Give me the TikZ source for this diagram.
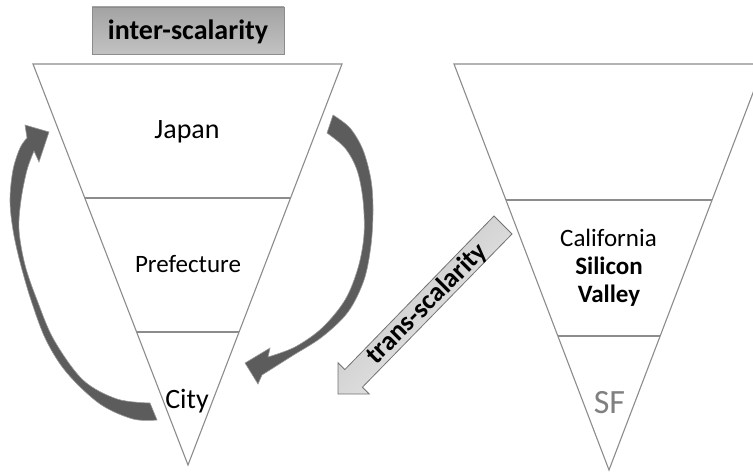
\documentclass[tikz,border=0pt]{standalone}
\usepackage{fontspec}
\setmainfont{Carlito}
\begin{document}
\begin{tikzpicture}[x=1bp,y=-1bp,
  tri/.style={draw=black!45, line width=1.1bp},
  curvearrow/.style={fill=black!64, draw=black!40, line width=0.6bp},
  lbl/.style={anchor=base, inner sep=0pt, text=black},
]
\clip (0,0) rectangle (753,472);
\fill[white] (0,0) rectangle (753,472);

% left triangle
\draw[tri] (33,64) -- (342,64) -- (188,465) -- cycle;
\draw[tri] (85,198) -- (291,198);
\draw[tri] (137,332) -- (239,332);

% right triangle
\draw[tri] (454,64) -- (764,64) -- (609,470) -- cycle;
\draw[tri] (506,200) -- (712,200);
\draw[tri] (558,336) -- (660,336);

% title box
\node[draw=black!45, top color=black!36, bottom color=black!24, minimum width=192bp, minimum height=47bp, inner sep=0pt, line width=0.8bp] (title) at (188,30.5) {};
\node[lbl, font=\bfseries\fontsize{28bp}{30bp}\selectfont] (titletext) at (188,40) {inter-scalarity};

% labels left
\node[lbl, font=\fontsize{28bp}{30bp}\selectfont] (japan) at (187,139) {Japan};
\node[lbl, font=\fontsize{25bp}{28bp}\selectfont] (pref) at (188,273) {Prefecture};
\node[lbl, font=\fontsize{28bp}{30bp}\selectfont] (city) at (187,408) {City};

% labels right
\node[lbl, font=\fontsize{25bp}{28bp}\selectfont] (calif) at (608.5,247) {California};
\node[lbl, font=\bfseries\fontsize{25bp}{28bp}\selectfont] (silicon) at (609,275) {Silicon};
\node[lbl, font=\bfseries\fontsize{25bp}{28bp}\selectfont] (valley) at (609,303) {Valley};
\node[lbl, text=black!50, font=\fontsize{34bp}{36bp}\selectfont] (sf) at (609.5,413) {SF};

% left curved arrow (City -> Japan)
\path[curvearrow]
  plot[smooth, tension=0.55] coordinates {(157,420) (133,419) (100,404) (67,373) (46,340) (31,300) (20,262) (13,230) (10,200) (13,170) (20,148) (27,138)}
  -- (25,125) -- (49,132) -- (39,162) --
  plot[smooth, tension=0.55] coordinates {(34,151) (27,170) (21,200) (19,230) (25,265) (37,300) (54,340) (83,380) (117,399) (150,403)}
  -- cycle;

% right curved arrow (Japan -> City)
\path[curvearrow]
  plot[smooth, tension=0.55] coordinates {(333,115) (350,128) (363,150) (371,180) (373,210) (371,245) (364,280) (348,312) (322,337) (292,356) (262,375)}
  -- (258,384) -- (245,363) -- (270,348) --
  plot[smooth, tension=0.55] coordinates {(268,357) (295,347) (322,328) (345,300) (358,268) (364,235) (363,200) (357,170) (345,148) (327,133)}
  -- cycle;

% trans-scalarity block arrow
\path[draw=black!55, line width=0.8bp, left color=black!25, right color=black!6, shading angle=45]
  (494,216) -- (344.8,369.6) -- (338,362.8) -- (338,394) -- (369.2,394) -- (362.4,387.2) -- (512,234) -- cycle;
\node[inner sep=0pt, rotate=45, font=\bfseries\fontsize{27bp}{29bp}\selectfont] (trans) at (427,304) {trans-scalarity};
\end{tikzpicture}
\end{document}
